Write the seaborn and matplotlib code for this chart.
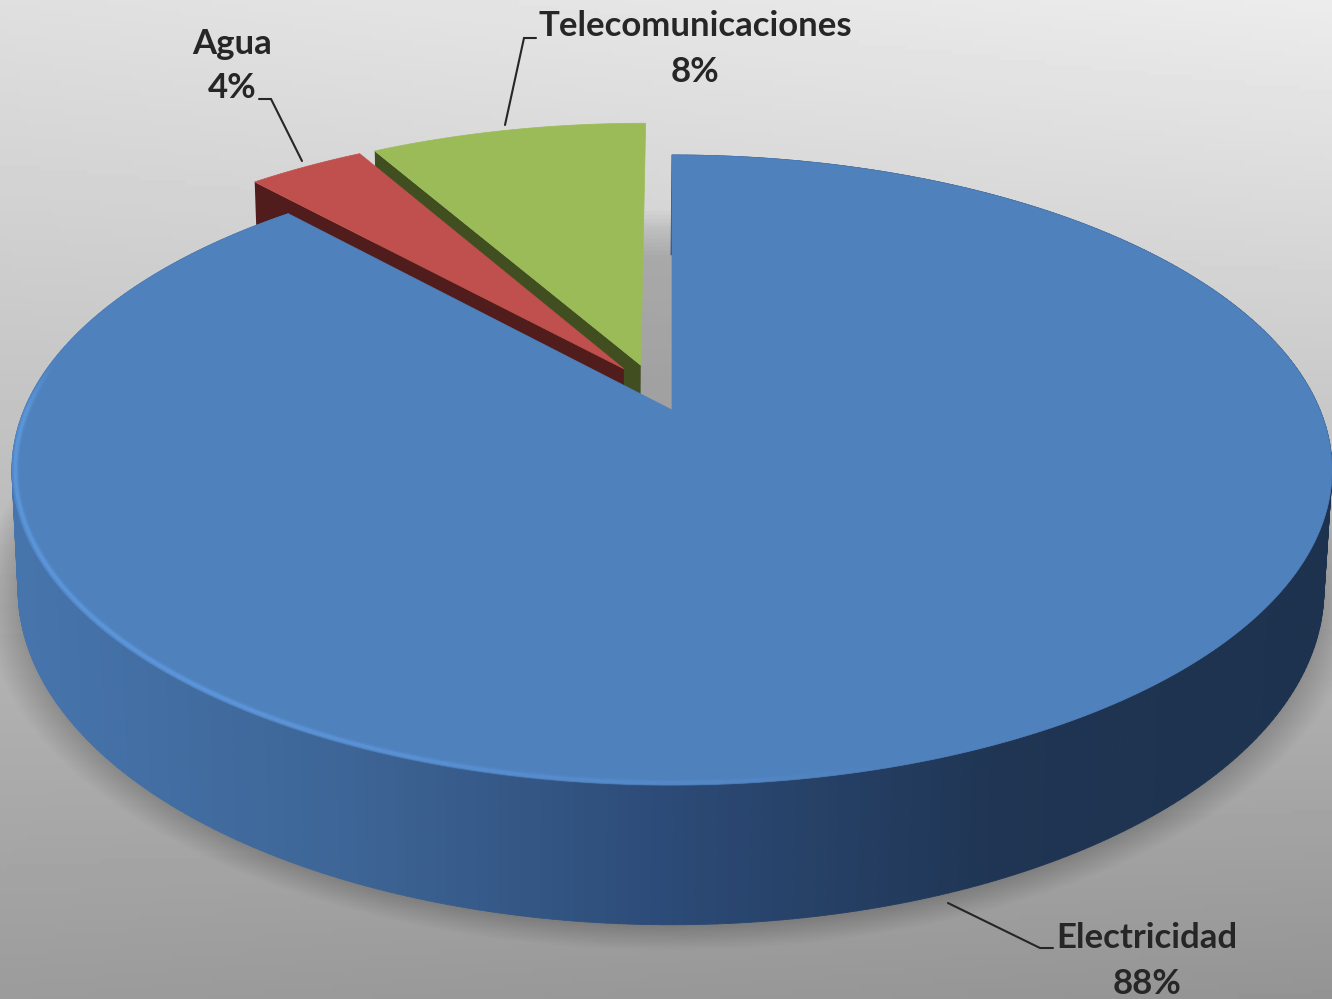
import numpy as np
import seaborn as sns
import matplotlib.pyplot as plt
from matplotlib.collections import LineCollection, PolyCollection
from matplotlib.colors import to_rgba

categories = ["Electricidad", "Agua", "Telecomunicaciones"]
percent_labels = ["88%", "4%", "8%"]
# slice sizes as measured on the picture, the printed labels are rounded
values = [88.2, 3.5, 8.3]
explode = [0.08, 0.08, 0.08]

top_colors = ["#4f81bd", "#c0504d", "#9bbb59"]
wall_colors = ["#1f3553", "#501d1c", "#404e20"]
blue_wall_stops = ["#4674ac", "#3d6596", "#2c4a76", "#1f3553", "#1d324e"]

# label position (px), then the leader line for each category
label_pos = [(1147, 961), (232, 66), (695, 49)]
leaders = [
    [(948, 903), (1040, 948), (1053, 948)],
    [(259, 99), (271, 99), (302, 161)],
    [(536, 38), (524, 38), (505, 125)],
]

# perspective of the disc
TILT = 0.1905
TOP = dict(cx=672, cy=410, a=648, b=303.6)
BOTTOM = dict(cx=671, cy=526, a=641, b=322.8)


def project(u, v, cx, cy, a, b):
    w = 1 + TILT * v
    return cx + a * u / w, cy - b * v / w


def arc(wedge, n=400):
    theta = np.radians(np.linspace(wedge.theta1, wedge.theta2, n))
    return wedge.center[0] + np.cos(theta), wedge.center[1] + np.sin(theta)


def background(ax):
    yy, xx = np.mgrid[0:1:200j, 0:1:200j]
    grey = 0.90 - 0.29 * yy + 0.05 * (xx - 0.5) * (1 - yy) - 0.03 * xx * yy
    ax.imshow(grey, cmap="gray", vmin=0, vmax=1, extent=(0, 1332, 999, 0),
              aspect="auto", zorder=0)


def plot_pie(ax):
    wedges, _ = ax.pie(values, explode=explode, startangle=90, counterclock=False,
                       radius=1, frame=False)
    origin = wedges[0].center
    for w in wedges:
        w.set_visible(False)

    def to_px(u, v, face):
        return project(np.asarray(u) - origin[0], np.asarray(v) - origin[1], **face)

    # soft shadow below the disc, spread more at the far side
    t = np.radians(np.linspace(0, 360, 500))
    for scale in np.linspace(1.0, 1.05, 12):
        vscale = scale + (scale - 1) * 3 * np.clip(np.sin(t), 0, 1)
        sx, sy = project(scale * np.cos(t), vscale * np.sin(t), **BOTTOM)
        ax.fill(sx, sy, color="black", alpha=0.014, lw=0, zorder=1)

    # painted back to front: green, red, blue
    for z, i in enumerate([2, 1, 0]):
        w = wedges[i]
        au, av = arc(w)
        if i == 0:
            tx, ty = to_px(au, av, TOP)
            bx, by = to_px(au, av, BOTTOM)
            quads = [[(tx[j], ty[j]), (tx[j + 1], ty[j + 1]), (bx[j + 1], by[j + 1]), (bx[j], by[j])]
                     for j in range(len(tx) - 1)]
            cmap = sns.blend_palette(blue_wall_stops, as_cmap=True)
            shade = cmap((tx[:-1] - 20) / 1300)
            ax.add_collection(PolyCollection(quads, facecolors=shade, edgecolors=shade,
                                             linewidths=0.6, zorder=2 + z))
        else:
            # radial side showing on the left edge of the slice
            eu, ev = ([w.center[0], au[-1]], [w.center[1], av[-1]])
            tx, ty = to_px(eu, ev, TOP)
            bx, by = to_px(eu, ev, BOTTOM)
            ax.fill(np.r_[tx, bx[::-1]], np.r_[ty, by[::-1]], color=wall_colors[i],
                    lw=0, zorder=2 + z)
        fx, fy = to_px(np.r_[w.center[0], au], np.r_[w.center[1], av], TOP)
        ax.fill(fx, fy, color=top_colors[i], lw=0.5, zorder=2.5 + z)

    # light rim on the front left of the big slice
    theta = np.radians(np.linspace(-190, -72, 200))
    rx, ry = project(0.995 * np.cos(theta), 0.995 * np.sin(theta), **TOP)
    pts = np.column_stack([rx, ry])
    segs = np.stack([pts[:-1], pts[1:]], axis=1)
    deg = np.degrees(theta[:-1])
    fade = np.clip((deg + 72) / -55, 0, 1) * np.clip((deg + 190) / 10, 0, 1)
    for lw, strength in [(5, 0.3), (2.5, 0.75)]:
        rim = np.tile(to_rgba("#5f9ae0"), (len(segs), 1))
        rim[:, 3] = fade * strength
        ax.add_collection(LineCollection(segs, colors=rim, linewidths=lw, zorder=6))


def plot_labels(ax):
    for cat, pct, pos, line in zip(categories, percent_labels, label_pos, leaders):
        ax.text(pos[0], pos[1], f"{cat}\n{pct}", ha="center", va="center", fontsize=25,
                fontweight="bold", color="#262626", linespacing=1.5, zorder=8)
        xs, ys = zip(*line)
        ax.plot(xs, ys, color="#262626", lw=1.5, zorder=7, solid_joinstyle="miter")


if __name__ == '__main__':
    sns.set_theme(style="white")
    plt.rcParams["font.family"] = ["Lato", "DejaVu Sans"]
    fig = plt.figure(figsize=(13.32, 9.99), dpi=100)
    ax = fig.add_axes([0, 0, 1, 1])
    plot_pie(ax)
    background(ax)
    plot_labels(ax)
    ax.set_aspect("auto")
    ax.set_xlim(0, 1332)
    ax.set_ylim(999, 0)
    ax.axis("off")
    fig.savefig("out.png", dpi=100)
